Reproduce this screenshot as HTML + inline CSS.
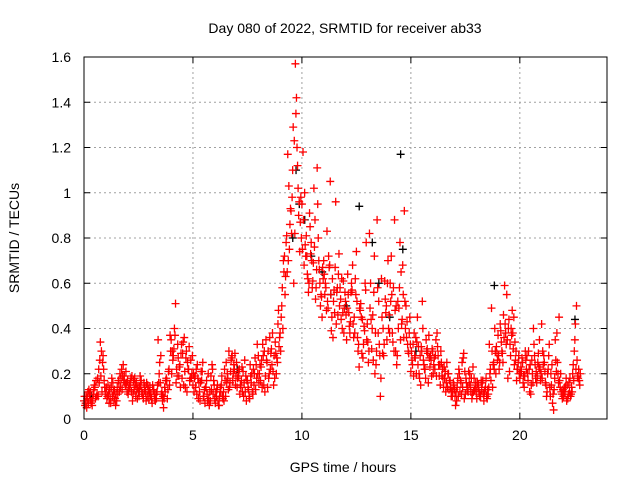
<!DOCTYPE html>
<html><head><meta charset="utf-8"><style>
body{margin:0;background:#fff}
svg{display:block;font-family:"Liberation Sans",sans-serif}
</style></head><body>
<svg id="chart" width="640" height="480">
<text x="345" y="33" text-anchor="middle" font-size="14">Day 080 of 2022, SRMTID for receiver ab33</text>
<text x="343" y="472" text-anchor="middle" font-size="14">GPS time / hours</text>
<text transform="translate(19,238) rotate(-90)" text-anchor="middle" font-size="14">SRMTID / TECUs</text>
<g id="grid"></g><g id="ticks"></g><g id="marks"></g>
<rect x="84" y="57" width="523" height="362" fill="none" stroke="#000" stroke-width="1"/>
</svg>
<script>
const xTicks=[0,5,10,15,20];
const yTicks=[0,0.2,0.4,0.6,0.8,1,1.2,1.4,1.6];
const yTickLabels=["0","0.2","0.4","0.6","0.8","1","1.2","1.4","1.6"];
const tStart=0, tStep=0.1;
const seriesA=[.08,.10,.07,.12,.09,.14,.11,.16,.30,.22,.12,.15,.09,.10,.13,.08,.16,.18,.24,.15,.17,.14,.19,.13,.16,.12,.15,.11,.14,.10,.12,.09,.13,.11,.35,.16,.08,.14,.17,.22,.35,.28,.51,.33,.24,.18,.36,.30,.22,.26,.15,.19,.24,.12,.17,.10,.14,.20,.08,.22,.09,.13,.06,.15,.12,.10,.18,.16,.28,.22,.25,.19,.14,.21,.12,.17,.09,.20,.15,.24,.28,.17,.33,.12,.25,.20,.31,.15,.29,.42,.38,.58,.72,.81,1.03,.92,1.29,1.57,1.12,.74,.95,.68,.81,.56,.73,.61,.88,1.11,.66,.54,.70,.58,.49,1.05,.62,.47,.56,.73,.44,.61,.52,.64,.38,.57,.45,.74,.33,.51,.27,.60,.42,.82,.31,.56,.24,.38,.10,.29,.61,.35,.46,.72,.58,.30,.52,.78,.44,.92,.36,.29,.21,.33,.27,.45,.18,.30,.24,.35,.16,.28,.30,.22,.38,.19,.25,.14,.12,.20,.17,.10,.13,.08,.22,.16,.27,.11,.14,.20,.09,.18,.12,.15,.10,.17,.13,.09,.33,.49,.25,.20,.37,.42,.29,.59,.55,.44,.40,.31,.26,.22,.18,.27,.14,.22,.30,.11,.16,.24,.19,.35,.42,.28,.15,.22,.10,.07,.18,.38,.45,.12,.10,.14,.09,.18,.12,.30,.50,.22];
const seriesB=[.06,.09,.11,.08,.13,.17,.10,.34,.25,.14,.09,.07,.14,.12,.06,.11,.20,.13,.19,.16,.13,.18,.11,.15,.09,.14,.12,.16,.08,.13,.10,.15,.09,.12,.20,.11,.05,.17,.13,.37,.30,.40,.22,.19,.29,.34,.14,.25,.17,.20,.12,.22,.09,.16,.25,.07,.11,.06,.13,.17,.12,.08,.14,.10,.22,.16,.30,.26,.20,.15,.18,.11,.23,.16,.08,.13,.19,.11,.27,.33,.20,.26,.15,.35,.30,.22,.38,.18,.27,.32,.45,.70,.63,1.17,.86,.98,1.23,1.42,.90,.98,1.18,.77,.64,.91,.70,1.02,.58,.80,.50,.67,.55,.83,.67,.39,.52,.96,.46,.58,.40,.49,.35,.47,.56,.42,.62,.36,.49,.29,.41,.78,.25,.60,.46,.20,.88,.33,.62,.28,.47,.70,.60,.38,.88,.24,.49,.65,.55,.40,.33,.45,.26,.38,.20,.32,.15,.40,.22,.31,.27,.19,.24,.35,.28,.15,.22,.18,.25,.13,.10,.16,.06,.18,.12,.25,.09,.16,.21,.12,.23,.14,.16,.10,.13,.08,.18,.11,.22,.14,.40,.29,.22,.34,.46,.38,.18,.33,.48,.24,.17,.28,.23,.16,.30,.20,.12,.26,.33,.21,.29,.17,.30,.21,.12,.33,.15,.04,.26,.20,.14,.09,.14,.08,.16,.11,.24,.42,.19,.15];
const seriesC=[.10,.05,.13,.07,.11,.09,.18,.26,.12,.17,.14,.11,.07,.16,.09,.14,.12,.22,.17,.21,.11,.16,.08,.18,.13,.10,.17,.09,.12,.15,.14,.07,.11,.09,.16,.28,.10,.12,.09,.15,.20,.31,.16,.27,.14,.29,.21,.12,.32,.18,.20,.14,.18,.08,.21,.13,.17,.09,.19,.11,.07,.15,.10,.19,.08,.25,.13,.21,.17,.29,.14,.22,.17,.10,.19,.14,.24,.12,.20,.18,.16,.23,.28,.19,.14,.36,.24,.28,.20,.48,.30,.40,.55,.65,.75,.82,.60,1.35,1.02,.87,.75,1.00,.72,.60,.78,.69,.53,.95,.60,.45,.64,.48,.72,.55,.36,.67,.58,.50,.62,.38,.46,.55,.43,.68,.38,.52,.23,.45,.33,.57,.34,.49,.40,.72,.30,.52,.18,.40,.53,.60,.38,.55,.30,.50,.40,.35,.68,.52,.43,.38,.30,.19,.36,.24,.28,.52,.22,.30,.37,.26,.20,.28,.32,.24,.19,.23,.16,.20,.14,.12,.10,.14,.20,.11,.29,.18,.12,.15,.11,.13,.09,.12,.17,.11,.14,.13,.20,.30,.22,.32,.28,.39,.25,.42,.35,.21,.37,.45,.30,.25,.20,.25,.19,.28,.22,.15,.40,.18,.25,.22,.18,.25,.10,.28,.20,.11,.35,.25,.17,.11,.12,.18,.11,.10,.20,.35,.26,.17];
const seriesD=[.07,.12,.09,.06,.15,.10,.22,.19,.28,.11,.10,.13,.18,.08,.11,.17,.14,.19,.16,.12,.15,.12,.17,.10,.14,.19,.11,.13,.16,.09,.11,.13,.08,.15,.25,.12,.09,.18,.21,.30,.26,.37,.19,.23,.33,.15,.27,.22,.18,.28,.18,.11,.16,.21,.10,.14,.08,.12,.24,.15,.10,.06,.12,.09,.17,.20,.14,.27,.24,.19,.21,.15,.12,.26,.17,.10,.16,.22,.13,.20,.24,.14,.30,.26,.18,.29,.21,.34,.25,.36,.50,.65,.78,.70,.93,1.10,.82,1.20,.96,.80,.88,.72,.62,.85,.58,.76,.66,.70,.55,.62,.60,.52,.68,.45,.57,.42,.64,.53,.47,.56,.49,.41,.60,.36,.55,.30,.48,.44,.39,.35,.30,.44,.26,.38,.58,.28,.45,.33,.50,.40,.52,.34,.48,.28,.58,.42,.36,.50,.30,.33,.24,.28,.34,.20,.32,.26,.18,.29,.23,.31,.27,.19,.24,.30,.18,.21,.14,.17,.12,.15,.12,.10,.17,.14,.21,.13,.16,.18,.12,.16,.14,.11,.16,.12,.10,.14,.17,.24,.30,.26,.25,.30,.36,.33,.40,.28,.38,.34,.22,.20,.21,.19,.26,.17,.24,.20,.28,.16,.23,.20,.24,.16,.20,.14,.24,.13,.21,.16,.20,.13,.11,.15,.12,.14,.17,.22,.18,.20];
const blackTimes=[9.55,9.7,9.85,10.1,10.4,10.9,11.3,12.0,12.6,13.2,13.5,14.0,14.5,14.6,15.2,18.8,22.5,0.3,2.5,7.0];
const blackValues=[0.80,1.10,0.95,0.88,0.72,0.65,0.55,0.50,0.94,0.78,0.60,0.45,1.17,0.75,0.30,0.59,0.44,0.10,0.12,0.22];

const X0=84,X1=607,Y0=419,Y1=57,XMAX=24,YMAX=1.6;
const xs=v=>X0+(v/XMAX)*(X1-X0);
const ys=v=>Y0-(v/YMAX)*(Y0-Y1);
const NS="http://www.w3.org/2000/svg";
const grid=document.getElementById('grid'),ticks=document.getElementById('ticks'),marks=document.getElementById('marks');
function mk(tag,attrs,parent){const e=document.createElementNS(NS,tag);for(const k in attrs)e.setAttribute(k,attrs[k]);parent.appendChild(e);return e;}
xTicks.forEach((t,i)=>{
  const x=xs(t);
  if(i>0){const g=mk('line',{x1:x,x2:x,y1:Y0,y2:Y1,stroke:'#a0a0a0','stroke-dasharray':'2,3'},grid);
  
  }
  mk('line',{x1:x,x2:x,y1:Y0,y2:Y0-6,stroke:'#000'},ticks);
  mk('line',{x1:x,x2:x,y1:Y1,y2:Y1+6,stroke:'#000'},ticks);
  const l=mk('text',{x:x,y:Y0+21,'text-anchor':'middle','font-size':'14'},ticks);
  l.textContent=String(t);
  
  
});
yTicks.forEach((t,i)=>{
  const y=ys(t);
  if(i>0&&i<yTicks.length-1){const g=mk('line',{x1:X0,x2:X1,y1:y,y2:y,stroke:'#a0a0a0','stroke-dasharray':'2,3'},grid);
  
  }
  mk('line',{x1:X0,x2:X0+6,y1:y,y2:y,stroke:'#000'},ticks);
  mk('line',{x1:X1,x2:X1-6,y1:y,y2:y,stroke:'#000'},ticks);
  const l=mk('text',{x:X0-13,y:y+5,'text-anchor':'end','font-size':'14'},ticks);
  l.textContent=yTickLabels[i];
  
  
});
function plus(t,v,color,name){
  const x=xs(t),y=ys(v);
  const p=mk('path',{d:`M${x-4} ${y}h8M${x} ${y-4}v8`,stroke:color,'stroke-width':'1.3',fill:'none'},marks);
  
  
}
blackTimes.forEach((t,i)=>plus(t+0.03,blackValues[i],'#000','black-point'));
[[seriesA,0],[seriesB,0.05],[seriesC,0.025],[seriesD,0.075]].forEach(([arr,off])=>{
  arr.forEach((v,i)=>plus(tStart+i*tStep+off,v,'#f00','srmtid-point'));
});
</script>
</body></html>
